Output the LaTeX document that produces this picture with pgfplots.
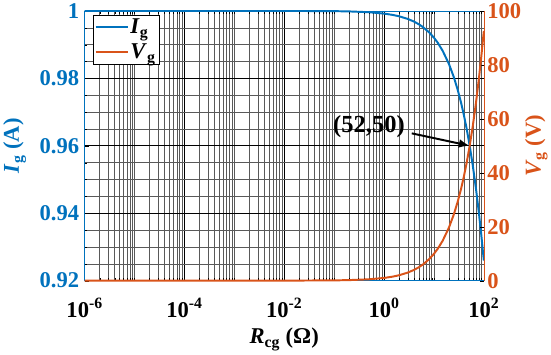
\documentclass[border=0pt]{standalone}
\usepackage{pgfplots}
\pgfplotsset{compat=1.18}
\usepackage{pgfplotstable}
\usepackage{fontspec}
\setmainfont{Liberation Serif}
\usetikzlibrary{arrows.meta}
\definecolor{mblue}{RGB}{0,114,189}
\definecolor{morange}{RGB}{217,83,25}
\newcommand{\bigfont}{\fontsize{23}{26}\selectfont\bfseries}
\begin{document}
\begin{tikzpicture}
\pgfplotstableread{
R Ig Vg
1e-6 1.000000 0.000001
1e-4 1.000000 0.0001
1e-2 0.999992 0.01
0.1 0.99992 0.1
0.2 0.99984 0.2
0.5 0.99960 0.4998
1 0.99920 0.9992
1.5 0.99880 1.4982
2 0.99840 1.9968
3 0.99761 2.9928
4 0.99681 3.9872
5 0.99602 4.9801
6 0.99522 5.9713
8 0.99364 7.9491
10 0.99206 9.9206
12 0.99049 11.8859
15 0.98814 14.8221
20 0.98425 19.6850
25 0.98039 24.5098
30 0.97656 29.2969
35 0.97276 34.0467
40 0.96899 38.7597
45 0.96525 43.4363
52 0.96006 49.9232
60 0.95420 57.2519
70 0.94697 66.2879
80 0.93985 75.1880
90 0.93284 83.9552
100 0.92593 92.5926
}\data
\begin{axis}[
  scale only axis, width=407pt, height=275pt,
  xmode=log, xmin=1e-6, xmax=1e2,
  ymin=0.92, ymax=1,
  xtick={1e-6,1e-4,1e-2,1,1e2},
  xticklabels={10\textsuperscript{-6},10\textsuperscript{-4},10\textsuperscript{-2},10\textsuperscript{0},10\textsuperscript{2}},
  minor xtick={2e-6,3e-6,4e-6,5e-6,6e-6,7e-6,8e-6,9e-6,
    1e-5,2e-5,3e-5,4e-5,5e-5,6e-5,7e-5,8e-5,9e-5,
    2e-4,3e-4,4e-4,5e-4,6e-4,7e-4,8e-4,9e-4,
    1e-3,2e-3,3e-3,4e-3,5e-3,6e-3,7e-3,8e-3,9e-3,
    2e-2,3e-2,4e-2,5e-2,6e-2,7e-2,8e-2,9e-2,
    1e-1,2e-1,3e-1,4e-1,5e-1,6e-1,7e-1,8e-1,9e-1,
    2,3,4,5,6,7,8,9,
    10,20,30,40,50,60,70,80,90},
  ytick={0.92,0.94,0.96,0.98,1},
  yticklabels={0.92,0.94,0.96,0.98,1},
  minor ytick={0.925,0.93,0.935,0.945,0.95,0.955,0.965,0.97,0.975,0.985,0.99,0.995},
  grid=both,
  major grid style={black, line width=0.55pt},
  minor grid style={black!65, line width=0.3pt},
  tick align=inside,
  tick style={black},
  axis line style={black!80},
  y axis line style={mblue},
  ytick pos=left,
  xtick pos=both,
  ticklabel style={font=\bigfont},
  yticklabel style={color=mblue, xshift=-2pt},
  xticklabel style={yshift=-14pt},
  xlabel={\textit{R}\textsubscript{cg} (Ω)},
  ylabel={\textcolor{mblue}{\textit{I}\textsubscript{g} (A)}},
  xlabel style={yshift=-4pt},
  ylabel style={yshift=7pt},
  label style={font=\bigfont},
  legend style={at={(rel axis cs:0.02,0.985)}, anchor=north west, draw=black, font=\bigfont, cells={anchor=west}, inner sep=2pt, row sep=5pt},
  legend image post style={xscale=1.9},
]
\addplot[mblue, line width=2pt, forget plot] table[x=R, y=Ig] {\data};
\addlegendimage{mblue, line width=2pt}
\addlegendentry{\textit{I}\textsubscript{g}}
\addlegendimage{morange, line width=2pt}
\addlegendentry{\textit{V}\textsubscript{g}}
\end{axis}
\begin{axis}[
  scale only axis, width=407pt, height=275pt,
  xmode=log, xmin=1e-6, xmax=1e2,
  ymin=0, ymax=100,
  axis x line=none,
  axis y line*=right,
  y axis line style={morange},
  ytick={0,20,40,60,80,100},
  yticklabels={0,20,40,60,80,100},
  tick align=inside,
  tick style={black},
  ticklabel style={font=\bigfont},
  yticklabel style={color=morange, xshift=0pt},
  ylabel={\textcolor{morange}{\textit{V}\textsubscript{g} (V)}},
  ylabel style={yshift=3pt},
  label style={font=\bigfont},
  clip=false,
]
\addplot[morange, line width=2pt] table[x=R, y=Vg] {\data};
\node[font=\fontsize{25}{28}\selectfont\bfseries] at (axis cs:0.5,57) {(52,50)};
\draw[-{Latex[length=11pt,width=9pt]}, line width=2pt] (axis cs:3.6,54.6) -- (axis cs:52,50);
\end{axis}
\end{tikzpicture}
\end{document}
